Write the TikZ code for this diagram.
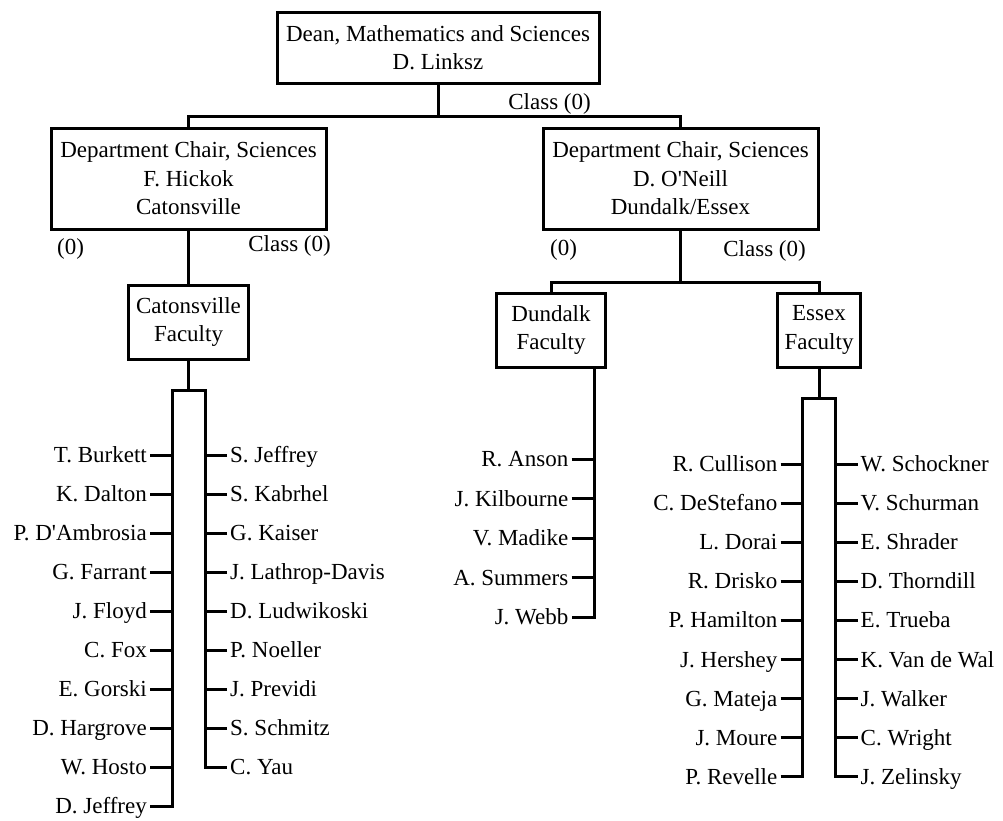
\documentclass[tikz,border=0pt]{standalone}
\usepackage{fontspec}
\setmainfont{Liberation Serif}
\usetikzlibrary{positioning,calc}
\tikzset{
  blk/.style={draw,rectangle,line width=3pt,outer sep=0pt,align=center,inner sep=0pt},
  deanblk/.style={blk,minimum width=322pt,minimum height=71pt},
  chairblk/.style={blk,minimum width=275pt,minimum height=101pt},
  facblk/.style={blk,minimum height=74pt},
  conn/.style={line width=3pt},
  lbl/.style={inner sep=0pt,text height=15pt,text depth=4pt},
  person/.style={inner sep=3pt,text height=15pt,text depth=0pt}
}

\begin{document}
\begin{tikzpicture}[x=1pt,y=1pt,font=\fontsize{23}{28.5}\selectfont]
  \useasboundingbox (0,0) rectangle (1003,-820);

  % boxes
  \node[deanblk] (dean) at (438,-47.5) {Dean, Mathematics and Sciences\\D. Linksz};
  \node[chairblk, below left=45pt and 112pt of dean.south] (lchair) {Department Chair, Sciences\\F. Hickok\\Catonsville};
  \node[chairblk, below right=45pt and 105pt of dean.south] (rchair) {Department Chair, Sciences\\D. O\textquotesingle Neill\\Dundalk/Essex};
  \node[facblk, minimum width=120pt, below=56pt of lchair] (cfac) {Catonsville\\Faculty};
  \node[facblk, minimum width=109pt, below left=64pt and 75pt of rchair.south] (dfac) {Dundalk\\Faculty};
  \node[facblk, minimum width=83pt, below right=64pt and 97pt of rchair.south] (efac) {Essex\\Faculty};

  % class labels
  \node[lbl, below left=11pt and 8pt of dean.south east] (dclass) {Class (0)};
  \node[lbl, below right=10pt and 6pt of lchair.south west] (lzero) {(0)};
  \node[lbl, below left=7pt and -5pt of lchair.south east] (lclass) {Class (0)};
  \node[lbl, below right=11pt and 7pt of rchair.south west] (rzero) {(0)};
  \node[lbl, below left=12pt and 12pt of rchair.south east] (rclass) {Class (0)};

  \draw[conn] (dean.south) -- ++(0,-33) coordinate (dbus) -| (lchair.north);
  \draw[conn] (dbus) -| (rchair.north);
  \draw[conn] (lchair.south) -- (cfac.north);
  \draw[conn] (rchair.south) -- ++(0,-53) coordinate (rbus) -| (dfac.north);
  \draw[conn] (rbus) -| (efac.north);

  % Catonsville faculty
  \draw[conn] (cfac.south) -- ++(0,-31) coordinate (ctop);
  \coordinate (cbl) at ($(ctop)+(-16.5,0)$);
  \coordinate (cbr) at ($(ctop)+(16.5,0)$);
  \foreach \nm [count=\i] in {T. Burkett, K. Dalton, P. D\textquotesingle Ambrosia, G. Farrant, J. Floyd, C. Fox, E. Gorski, D. Hargrove, W. Hosto, D. Jeffrey}
    \node[person, anchor=east] (cl\i) at ($(cbl)+(-22,{-65-39*(\i-1)})$) {\nm};
  \foreach \nm [count=\i] in {S. Jeffrey, S. Kabrhel, G. Kaiser, J. Lathrop-Davis, D. Ludwikoski, P. Noeller, J. Previdi, S. Schmitz, C. Yau}
    \node[person, anchor=west] (cr\i) at ($(cbr)+(22,{-65-39*(\i-1)})$) {\nm};
  \draw[conn] (cl10.east) -| (cbl) -- (cbr) |- (cr9.west);
  \foreach \i in {1,...,9} \draw[conn] (cl\i.east) -- (cl\i.east -| cbl);
  \foreach \i in {1,...,8} \draw[conn] (cr\i.west) -- (cr\i.west -| cbr);

  % Dundalk faculty
  \coordinate (dbar) at ($(dfac.south east)+(-11,0)$);
  \foreach \nm [count=\i] in {R. Anson, J. Kilbourne, V. Madike, A. Summers, J. Webb}
    \node[person, anchor=east] (dl\i) at ($(dbar)+(-23,{-92-39.5*(\i-1)})$) {\nm};
  \draw[conn] (dbar) |- (dl5.east);
  \foreach \i in {1,...,4} \draw[conn] (dl\i.east) -- (dl\i.east -| dbar);

  % Essex faculty
  \draw[conn] (efac.south) -- ++(0,-31) coordinate (etop);
  \coordinate (ebl) at ($(etop)+(-16.5,0)$);
  \coordinate (ebr) at ($(etop)+(16.5,0)$);
  \foreach \nm [count=\i] in {R. Cullison, C. DeStefano, L. Dorai, R. Drisko, P. Hamilton, J. Hershey, G. Mateja, J. Moure, P. Revelle}
    \node[person, anchor=east] (el\i) at ($(ebl)+(-22,{-66-39.1*(\i-1)})$) {\nm};
  \foreach \nm [count=\i] in {W. Schockner, V. Schurman, E. Shrader, D. Thorndill, E. Trueba, K. Van de Wal, J. Walker, C. Wright, J. Zelinsky}
    \node[person, anchor=west] (er\i) at ($(ebr)+(22,{-66-39.1*(\i-1)})$) {\nm};
  \draw[conn] (el9.east) -| (ebl) -- (ebr) |- (er9.west);
  \foreach \i in {1,...,8} \draw[conn] (el\i.east) -- (el\i.east -| ebl);
  \foreach \i in {1,...,8} \draw[conn] (er\i.west) -- (er\i.west -| ebr);
\end{tikzpicture}
\end{document}
